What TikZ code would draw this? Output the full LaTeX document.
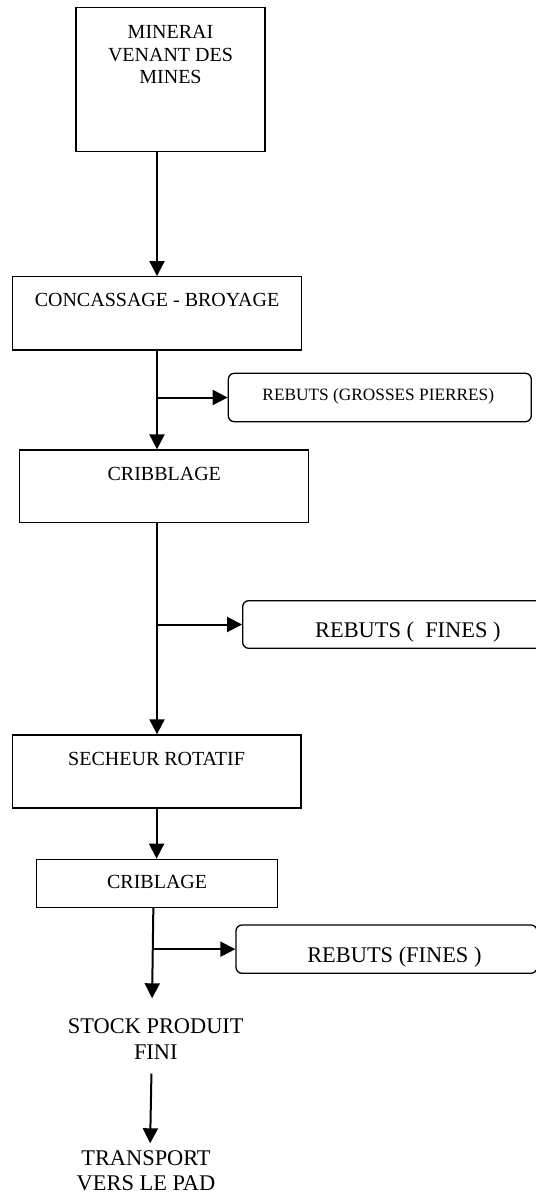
\documentclass[tikz,border=0pt]{standalone}
\usepackage{fontspec}
\setmainfont{Liberation Serif}
\usetikzlibrary{positioning,arrows.meta}

\begin{document}
\begin{tikzpicture}[x=0.5pt,y=-0.5pt]
 \tikzset{stage/.style={draw,line width=0.65pt,inner sep=0pt},
  waste/.style={stage,rounded corners=3pt},
  stagetext/.style={align=center,inner sep=0pt,font=\fontsize{10}{11.25}\selectfont},
  wastetext/.style={align=center,inner sep=0pt,font=\fontsize{11.2}{12.8}\selectfont},
  arrow/.style={line width=1pt,-{Triangle[length=7.5pt,width=7.5pt]}}}
 \useasboundingbox (0,0) rectangle (536,1196);

 % main line
 \node[stage,minimum width=94.5pt,minimum height=72.2pt,
  label={[stagetext,anchor=north,yshift=-9.35pt]north:{MINERAI\\VENANT DES\\MINES}}] (mines) at (170.5,79.5) {};
 \node[stage,minimum width=144.3pt,minimum height=36.65pt,
  label={[stagetext,anchor=base,yshift=-15.3pt]north:{CONCASSAGE - BROYAGE}}] (concas) at (157,313.35) {};
 \node[stage,minimum width=144.45pt,minimum height=36.35pt,
  label={[stagetext,anchor=base,yshift=-15.35pt]north:{CRIBBLAGE}}] (crib1) at (164.25,486.35) {};
 \node[stage,minimum width=144.3pt,minimum height=36.5pt,
  label={[stagetext,anchor=base,yshift=-15.35pt]north:{SECHEUR ROTATIF}}] (secheur) at (156.6,771.5) {};
 \node[stage,minimum width=120.45pt,minimum height=24pt,
  label={[stagetext,anchor=base,yshift=-15pt]north:{CRIBLAGE}}] (crib2) at (157.15,883.3) {};
 \node[wastetext,anchor=north] (stock) at (155.8,1018.3) {STOCK PRODUIT\\FINI};
 \node[wastetext,anchor=north] (transport) at (146,1150) {TRANSPORT\\VERS LE PAD};

 % rejects
 \node[waste,minimum width=151.5pt,minimum height=24.2pt,
  label={[stagetext,font=\fontsize{8.65}{10}\selectfont,anchor=base,xshift=-0.75pt,yshift=-13.7pt]north:{REBUTS (GROSSES PIERRES)}}] (rebut1) at (379.8,397.5) {};
 \node[waste,minimum width=165.15pt,minimum height=23.8pt,
  label={[wastetext,anchor=base,yshift=-18.8pt]north:{REBUTS (\ \ FINES )}}] (rebut2) at (407.85,624.5) {};
 \node[waste,minimum width=150.5pt,minimum height=24.15pt,
  label={[wastetext,anchor=base,xshift=3.95pt,yshift=-19.15pt]north:{REBUTS (FINES )}}] (rebut3) at (386.5,949.15) {};

 \draw[arrow] (concas.north |- mines.south) -- (concas.north);
 \draw[arrow] (concas.south) -- (concas.south |- crib1.north);
 \draw[arrow] (concas.south |- rebut1.west) -- (rebut1.west);
 \draw[arrow] (concas.south |- crib1.south) -- (concas.south |- secheur.north);
 \draw[arrow] (concas.south |- rebut2.west) -- (rebut2.west);
 \draw[arrow] (secheur.south) -- (secheur.south |- crib2.north);
 \draw[arrow,shorten >=10pt] ([xshift=-1.9pt]crib2.south) -- ([xshift=-2pt]stock.north);
 \draw[arrow] ([xshift=-1.9pt]crib2.south |- rebut3.west) -- (rebut3.west);
 \draw[arrow,shorten <=7pt,shorten >=3.35pt] ([xshift=-2.05pt]stock.south) -- ([xshift=2pt]transport.north);
\end{tikzpicture}
\end{document}
